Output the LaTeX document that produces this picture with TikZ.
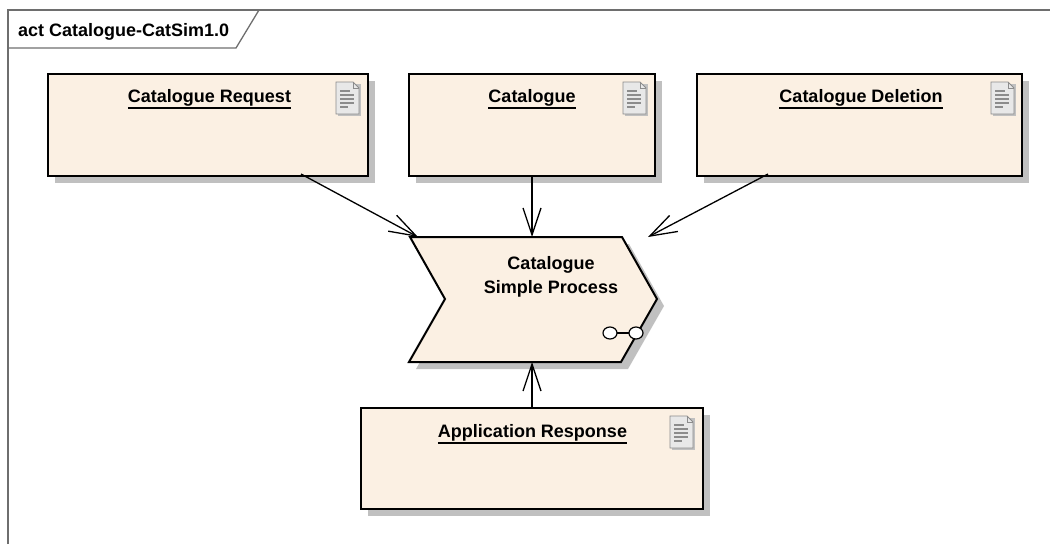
\documentclass[tikz,border=0pt]{standalone}
\usepackage{fontspec}
\setmainfont{Liberation Sans}
\usetikzlibrary{arrows.meta,calc}
\definecolor{boxfill}{RGB}{251,240,227}
\definecolor{shadowc}{RGB}{192,192,192}
\definecolor{framec}{RGB}{110,110,110}
\definecolor{iconfill}{RGB}{232,232,232}
\definecolor{iconline}{RGB}{140,140,140}
\tikzset{
  artbox/.style={draw=black, line width=2pt, fill=boxfill, rectangle, inner sep=0pt},
  ttl/.style={inner sep=0pt, anchor=base, font=\fontsize{18}{22}\selectfont\bfseries},
  uline/.style={line width=1.6pt},
  arr/.style={draw=black, line width=1.3pt, -{Straight Barb[length=27pt,width=18pt]}},
  docicon/.pic={
    \fill[shadowc] (2,2) -- (25,2) -- (25,34) -- (2,34) -- cycle;
    \draw[iconline, fill=iconfill, line width=0.8pt] (0,0) -- (17,0) -- (23,6) -- (23,32) -- (0,32) -- cycle;
    \draw[iconline, line width=0.8pt] (17,0) -- (17,6) -- (23,6);
    \foreach \yy/\xx in {9/14, 13/18, 17/18, 21/18, 25/12} {
      \draw[iconline, line width=1.4pt] (4,\yy) -- (\xx,\yy);
    }
  }
}
\begin{document}
\begin{tikzpicture}[x=1pt,y=-1pt]
\useasboundingbox (0,0) rectangle (1050,544);
% frame
\draw[framec, line width=1.5pt] (8,544) -- (8,10) -- (1050,10);
\draw[framec, line width=1.3pt] (259,10) -- (236,48) -- (8,48);
\node[ttl, anchor=base west] (frametitle) at (18,36) {act Catalogue-CatSim1.0};

% boxes
\fill[shadowc] (55,81) rectangle (375,183);
\node[artbox, minimum width=320pt, minimum height=102pt] (req) at (208,125) {};
\fill[shadowc] (416,81) rectangle (662,183);
\node[artbox, minimum width=246pt, minimum height=102pt] (cat) at (532,125) {};
\fill[shadowc] (704,81) rectangle (1029,183);
\node[artbox, minimum width=325pt, minimum height=102pt] (del) at (859.5,125) {};
\fill[shadowc] (368,415) rectangle (710,516);
\node[artbox, minimum width=342pt, minimum height=101pt] (app) at (532,458.5) {};

% titles
\node[ttl] (treq) at (209.5,102) {Catalogue Request};
\node[ttl] (tcat) at (532,102) {Catalogue};
\node[ttl] (tdel) at (861,102) {Catalogue Deletion};
\node[ttl] (tapp) at (532.5,437) {Application Response};
\foreach \t in {treq,tcat,tdel,tapp} {
  \draw[uline] ([yshift=-6pt]\t.base west) -- ([yshift=-6pt]\t.base east);
}

% icons
\pic at (336,82) {docicon};
\pic at (623,82) {docicon};
\pic at (991,82) {docicon};
\pic at (670,416) {docicon};

% process
\fill[shadowc] (417,244) -- (629,244) -- (664,306) -- (628,369) -- (416,369) -- (452,306) -- cycle;
\draw[black, line width=2pt, fill=boxfill] (410,237) -- (622,237) -- (657,299) -- (621,362) -- (409,362) -- (445,299) -- cycle;
\node[inner sep=0pt, align=center, font=\fontsize{18}{24}\selectfont\bfseries] (proc) at (551,277) {Catalogue\\Simple Process};
\draw[line width=1.2pt, fill=white] (610,333) ellipse [x radius=7pt, y radius=6pt];
\draw[line width=1.2pt, fill=white] (636,333) ellipse [x radius=7pt, y radius=6pt];
\draw[line width=1.2pt] (617,333) -- (629,333);

% connector endpoints
\coordinate (s1) at (301,174);
\coordinate (e1) at (418,237);
\coordinate (e2) at (532,237);
\coordinate (s3) at (768,174);
\coordinate (e3) at (648,237);
\coordinate (e4) at (532,362);

\draw[arr] (s1) -- (e1);
\draw[arr] (cat.south) -- (e2);
\draw[arr] (s3) -- (e3);
\draw[arr] (app.north) -- (e4);
\end{tikzpicture}
\end{document}
